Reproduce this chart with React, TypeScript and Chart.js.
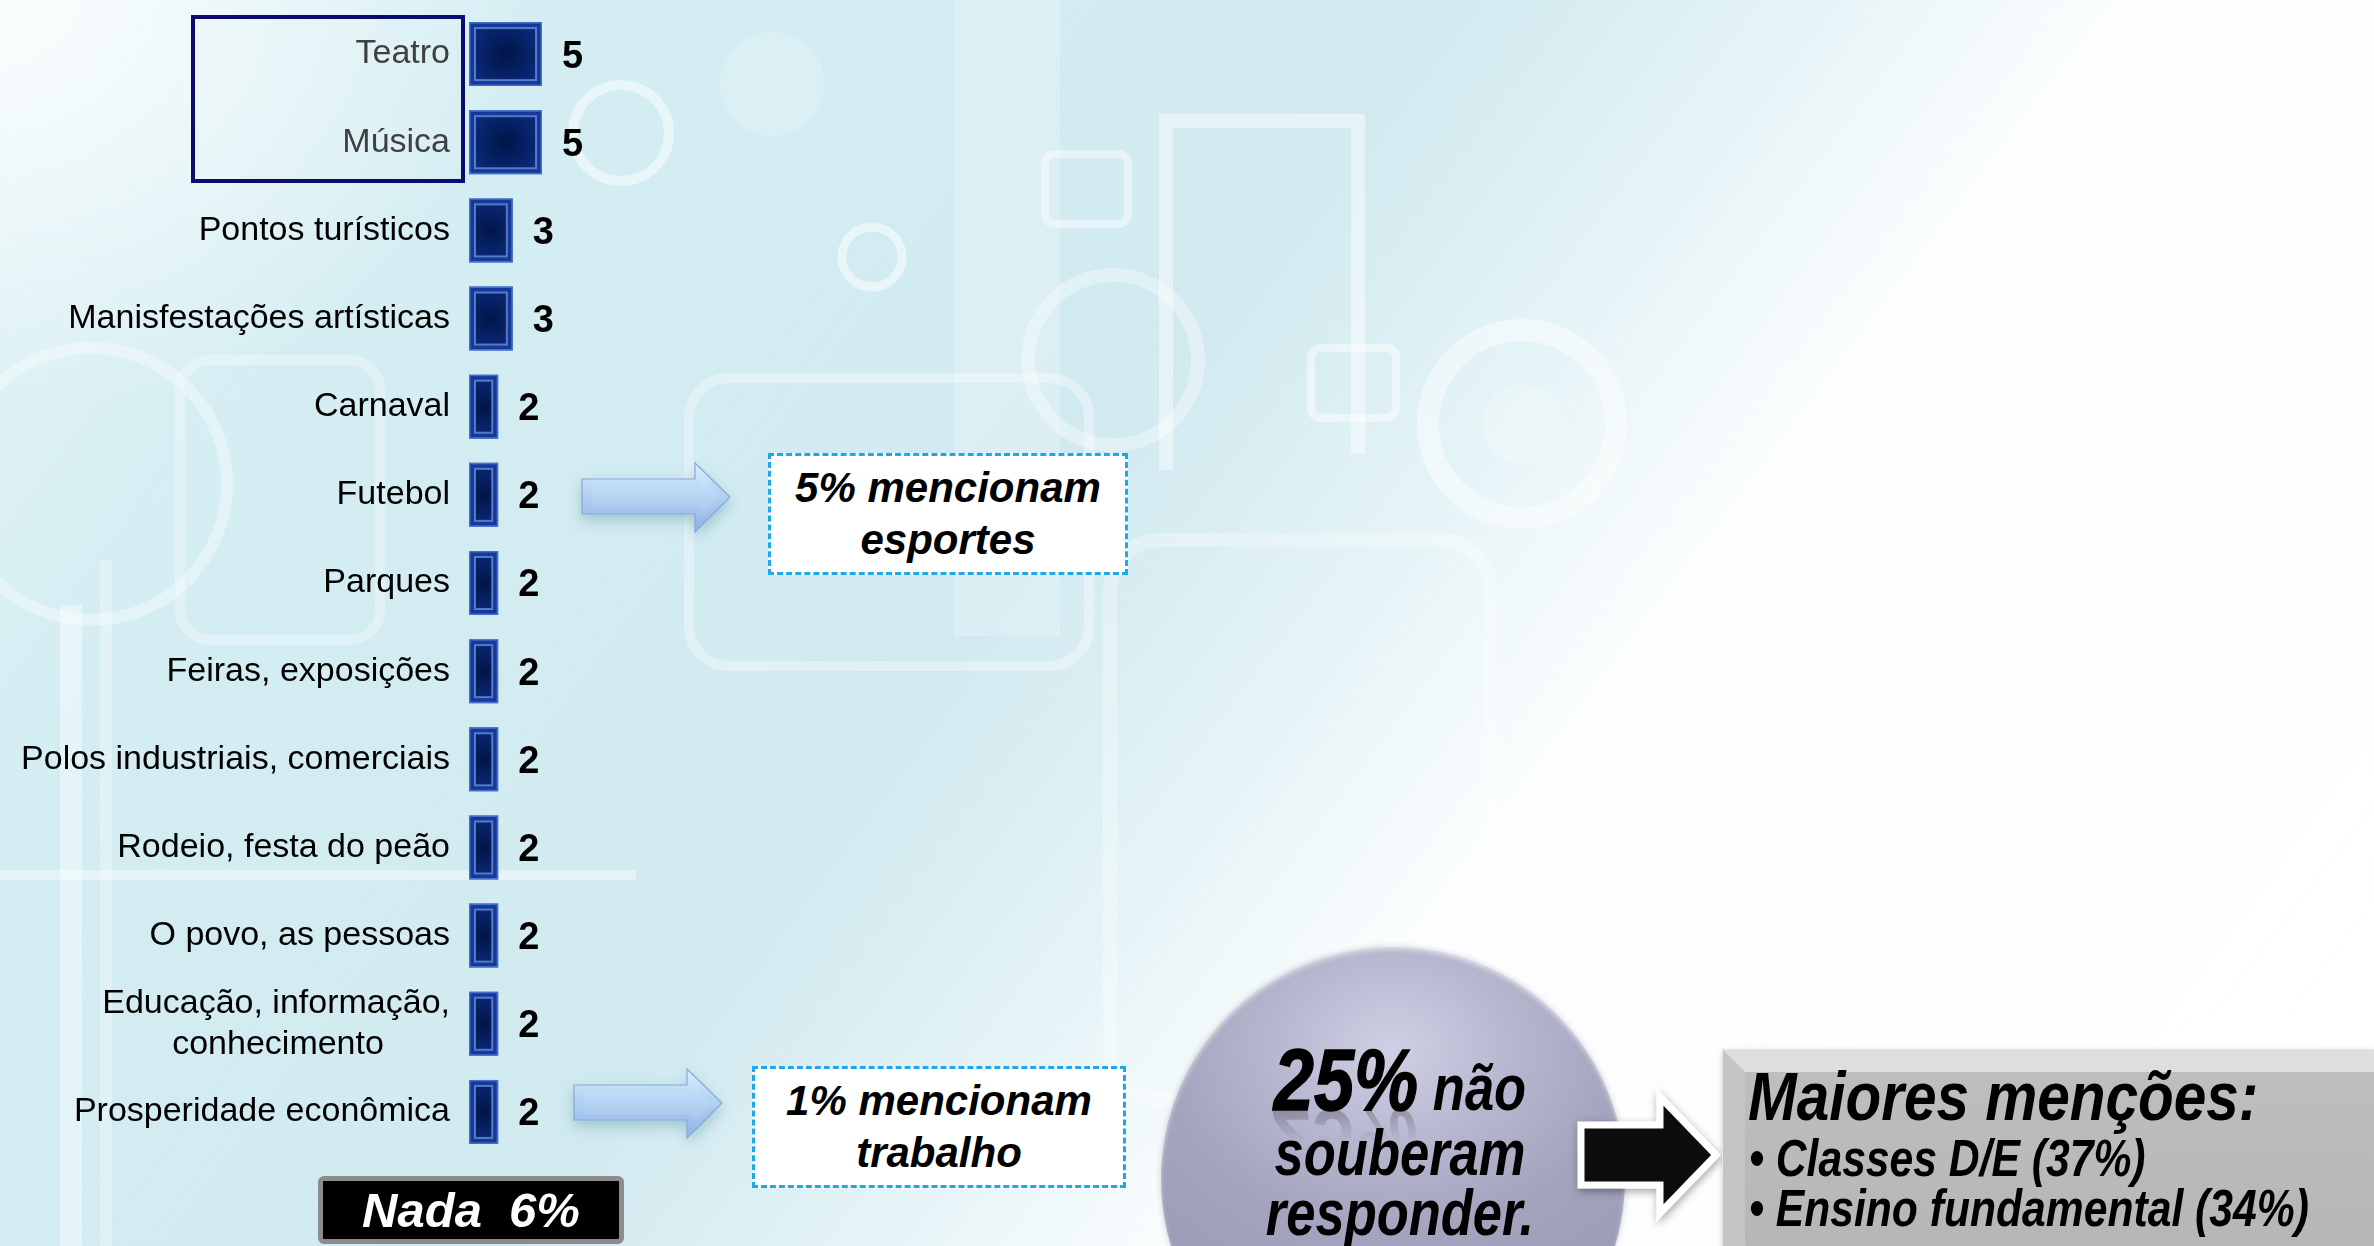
import React, { useEffect, useRef } from "react";
import { Chart, registerables } from "chart.js";

Chart.register(...registerables);

const FONT = "'Liberation Sans', Arial, Helvetica, sans-serif";

// ---- data ----
const categories: (string | string[])[] = [
  "Teatro",
  "Música",
  "Pontos turísticos",
  "Manisfestações artísticas",
  "Carnaval",
  "Futebol",
  "Parques",
  "Feiras, exposições",
  "Polos industriais, comerciais",
  "Rodeio, festa do peão",
  "O povo, as pessoas",
  ["Educação, informação,", "conhecimento       "],
  "Prosperidade econômica",
];
const values: number[] = [5, 5, 3, 3, 2, 2, 2, 2, 2, 2, 2, 2, 2];
const boxedCount = 2; // Teatro, Música are framed
const axisMax = 20;

const noteSports: string[] = ["5% mencionam", "esportes"];
const noteWork: string[] = ["1% mencionam", "trabalho"];
const nothingLabel = "Nada  6%";
const dontKnowPct = "25%";
const dontKnowText: string[] = ["não", "souberam", "responder."];
const topTitle = "Maiores menções:";
const topItems: string[] = ["Classes D/E (37%)", "Ensino fundamental (34%)"];

const barDecor = {
  id: "barDecor",
  afterDatasetsDraw(chart: any) {
    const ctx = chart.ctx as CanvasRenderingContext2D;
    const meta = chart.getDatasetMeta(0);
    const data = chart.data.datasets[0].data as number[];
    ctx.save();
    meta.data.forEach((el: any, i: number) => {
      const p = el.getProps(["x", "y", "base", "height"], true);
      const l = Math.min(p.x, p.base);
      const r = Math.max(p.x, p.base);
      const t = p.y - p.height / 2;
      const b = p.y + p.height / 2;
      ctx.strokeStyle = "rgba(90,130,215,0.75)";
      ctx.lineWidth = 1.5;
      ctx.strokeRect(l + 0.75, t + 0.75, r - l - 1.5, b - t - 1.5);
      const ins = 6;
      const il = l + ins, ir = r - ins, it = t + ins, ib = b - ins;
      const cx = (il + ir) / 2, cy = (it + ib) / 2;
      const g = ctx.createRadialGradient(cx, cy, 0, cx, cy, Math.max(ir - il, ib - it) / 1.3);
      g.addColorStop(0, "#011549");
      g.addColorStop(1, "#0c3088");
      ctx.fillStyle = g;
      ctx.fillRect(il, it, ir - il, ib - it);
      ctx.strokeStyle = "rgba(140,170,232,0.6)";
      ctx.lineWidth = 2;
      ctx.strokeRect(il, it, ir - il, ib - it);
      ctx.fillStyle = "#000";
      ctx.font = `bold 38px ${FONT}`;
      ctx.textAlign = "left";
      ctx.textBaseline = "middle";
      ctx.fillText(String(data[i]), r + 20, p.y + 3);
    });
    ctx.restore();
  },
};

const bi: React.CSSProperties = {
  fontFamily: FONT,
  fontWeight: "bold",
  fontStyle: "italic",
  color: "#000",
  whiteSpace: "pre",
  position: "absolute",
};

export default function App() {
  const ref = useRef<HTMLCanvasElement>(null);

  useEffect(() => {
    document.body.style.margin = "0";
    const chart = new Chart(ref.current as HTMLCanvasElement, {
      type: "bar",
      data: {
        labels: categories as any,
        datasets: [
          {
            data: values,
            backgroundColor: "#113a9c",
            borderWidth: 0,
            barPercentage: 0.726,
            categoryPercentage: 1,
          },
        ],
      },
      options: {
        indexAxis: "y",
        animation: false,
        responsive: true,
        maintainAspectRatio: false,
        layout: { padding: { top: 10, bottom: 90, left: 0, right: 0 } },
        plugins: { legend: { display: false }, tooltip: { enabled: false } },
        scales: {
          x: { display: false, min: 0, max: axisMax },
          y: {
            grid: { display: false },
            border: { display: false },
            ticks: {
              autoSkip: false,
              padding: 11,
              font: { family: FONT, size: 34 },
              color: (c: any) => (c.index < boxedCount ? "#404040" : "#000000"),
            },
            afterFit: (s: any) => {
              s.width = 469;
              s.paddingTop = 0;
              s.paddingBottom = 0;
            },
          },
        },
      } as any,
      plugins: [barDecor],
    });
    return () => chart.destroy();
  }, []);

  const bg =
    "radial-gradient(ellipse 520px 420px at 0 0, rgba(255,255,255,0.85), rgba(255,255,255,0) 100%)," +
    "linear-gradient(127deg, #e2f3f6 0%, #d3edf2 20%, #d1eaf0 44%, #e6f4f7 55%, #fbfdfe 64%, #ffffff 100%)";

  const arrowPath = "M582,479 L695,479 L695,463 L730,497 L695,532 L695,514 L582,514 Z";
  const arrowFace = "M592,486 L701,486 L701,477 L720,497 L701,517 L701,508 L592,508 Z";

  return (
    <div
      style={{
        position: "fixed",
        left: 0,
        top: 0,
        width: 2374,
        height: 1246,
        overflow: "hidden",
        background: bg,
      }}
    >
      {/* decorative background shapes */}
      <svg width={2374} height={1246} style={{ position: "absolute", left: 0, top: 0 }}>
        <g fill="none" stroke="#ffffff">
          <circle cx={1522} cy={424} r={94} strokeWidth={22} opacity={0.45} />
          <circle cx={1113} cy={360} r={85} strokeWidth={14} opacity={0.35} />
          <circle cx={872} cy={257} r={30} strokeWidth={9} opacity={0.5} />
          <circle cx={621} cy={133} r={48} strokeWidth={10} opacity={0.5} />
          <circle cx={91} cy={484} r={136} strokeWidth={12} opacity={0.35} />
          <polyline points="1166,470 1166,121 1358,121 1358,454" strokeWidth={14} opacity={0.45} />
          <rect x={1045} y={154} width={83} height={70} rx={10} strokeWidth={8} opacity={0.45} />
          <rect x={1311} y={348} width={85} height={70} rx={10} strokeWidth={8} opacity={0.45} />
          <rect x={689} y={378} width={400} height={288} rx={40} strokeWidth={10} opacity={0.35} />
          <rect x={180} y={360} width={200} height={280} rx={30} strokeWidth={10} opacity={0.3} />
          <rect x={1110} y={540} width={380} height={560} rx={50} strokeWidth={14} opacity={0.3} />
          <line x1={0} y1={875} x2={636} y2={875} strokeWidth={10} opacity={0.4} />
        </g>
        <g fill="#ffffff">
          <circle cx={1522} cy={424} r={40} opacity={0.2} />
          <rect x={60} y={605} width={22} height={641} opacity={0.4} />
          <rect x={100} y={560} width={12} height={686} opacity={0.3} />
          <rect x={954} y={0} width={106} height={636} opacity={0.22} />
          <circle cx={772} cy={84} r={52} opacity={0.18} />
        </g>
      </svg>

      {/* chart */}
      <div style={{ position: "absolute", left: 0, top: 0, width: 761, height: 1246 }}>
        <canvas ref={ref} />
      </div>

      {/* frame around Teatro / Música */}
      <div
        style={{
          position: "absolute",
          left: 191,
          top: 15,
          width: 274,
          height: 168,
          boxSizing: "border-box",
          border: "4px solid #0c0c70",
        }}
      />

      {/* arrows */}
      <svg width={2374} height={1246} style={{ position: "absolute", left: 0, top: 0 }}>
        <defs>
          <linearGradient id="blueBody" x1="0" y1="0" x2="0" y2="1">
            <stop offset="0" stopColor="#d9effc" />
            <stop offset="0.45" stopColor="#b3d2f2" />
            <stop offset="1" stopColor="#8fb1e3" />
          </linearGradient>
          <linearGradient id="blueFace" x1="0" y1="0" x2="0" y2="1">
            <stop offset="0" stopColor="#c9e6fa" />
            <stop offset="1" stopColor="#a4c4ee" />
          </linearGradient>
          <filter id="glow" x="-30%" y="-60%" width="160%" height="220%">
            <feDropShadow dx="0" dy="6" stdDeviation="7" floodColor="#5f9aa4" floodOpacity="0.45" />
          </filter>
          <filter id="dark" x="-30%" y="-30%" width="160%" height="160%">
            <feDropShadow dx="1" dy="3" stdDeviation="4" floodColor="#000" floodOpacity="0.35" />
          </filter>
        </defs>
        {[0, 1].map((k) => (
          <g key={k} transform={k === 0 ? "" : "translate(-8,606)"} filter="url(#glow)">
            <path d={arrowPath} fill="url(#blueBody)" stroke="#86a9dc" strokeWidth={1.2} />
            <path d={arrowFace} fill="url(#blueFace)" opacity={0.8} />
          </g>
        ))}
      </svg>

      {/* dashed notes */}
      {[
        { left: 768, top: 453, width: 360, lines: noteSports },
        { left: 752, top: 1066, width: 374, lines: noteWork },
      ].map((b, k) => (
        <div
          key={k}
          style={{
            position: "absolute",
            left: b.left,
            top: b.top,
            width: b.width,
            height: 122,
            boxSizing: "border-box",
            border: "3px dashed #1ea8ec",
            background: "#ffffff",
            display: "flex",
            flexDirection: "column",
            alignItems: "center",
            justifyContent: "center",
          }}
        >
          {b.lines.map((ln, i) => (
            <div key={i} style={{ ...bi, position: "static", fontSize: 42, lineHeight: "52px" }}>
              {ln}
            </div>
          ))}
        </div>
      ))}

      {/* Nada box */}
      <div
        style={{
          position: "absolute",
          left: 318,
          top: 1176,
          width: 306,
          height: 68,
          boxSizing: "border-box",
          border: "5px solid #8c8c8c",
          borderRadius: 6,
          background: "#000",
          display: "flex",
          alignItems: "center",
          justifyContent: "center",
        }}
      >
        <span style={{ ...bi, position: "static", color: "#fff", fontSize: 49, lineHeight: "49px" }}>
          {nothingLabel}
        </span>
      </div>

      {/* circle */}
      <div
        style={{
          position: "absolute",
          left: 1161,
          top: 947,
          width: 464,
          height: 464,
          borderRadius: "50%",
          background:
            "radial-gradient(ellipse 75% 60% at 50% 22%, #cfcfe5 0%, #b6b6cf 35%, #a4a4be 65%, #9c9cb7 100%)",
          boxShadow: "0 0 6px rgba(0,0,0,0.18), inset 0 3px 4px rgba(255,255,255,0.5)",
        }}
      />
      {/* reflection of 25% */}
      <div
        style={{
          ...bi,
          left: 1150,
          top: 1037,
          width: 500,
          textAlign: "center",
          fontSize: 88,
          lineHeight: "86px",
          color: "rgba(0,0,0,0.9)",
          transform: "scaleX(0.82) scaleY(-1)",
          transformOrigin: "50% 73px",
          WebkitMaskImage: "linear-gradient(to top, rgba(0,0,0,0.35) 10%, rgba(0,0,0,0) 55%)",
          maskImage: "linear-gradient(to top, rgba(0,0,0,0.35) 10%, rgba(0,0,0,0) 55%)",
        }}
      >
        <span>{dontKnowPct}</span>
        <span style={{ fontSize: 64, visibility: "hidden" }}>{" " + dontKnowText[0]}</span>
      </div>
      <div
        style={{
          ...bi,
          left: 1150,
          top: 1037,
          width: 500,
          textAlign: "center",
          fontSize: 88,
          lineHeight: "86px",
          transform: "scaleX(0.82)",
          transformOrigin: "50% 0",
        }}
      >
        <span style={{ WebkitTextStroke: "1.5px #000" }}>{dontKnowPct}</span>
        <span style={{ fontSize: 64 }}>{" " + dontKnowText[0]}</span>
      </div>
      {dontKnowText.slice(1).map((ln, i) => (
        <div
          key={i}
          style={{
            ...bi,
            left: 1150,
            top: 1121 + i * 60,
            width: 500,
            textAlign: "center",
            fontSize: 64,
            lineHeight: "64px",
            transform: "scaleX(0.82)",
            transformOrigin: "50% 0",
          }}
        >
          {ln}
        </div>
      ))}

      {/* black arrow */}
      <svg width={2374} height={1246} style={{ position: "absolute", left: 0, top: 0 }}>
        <path
          d="M1581,1125 L1660,1125 L1660,1097 L1716,1155 L1660,1213 L1660,1185 L1581,1185 Z"
          fill="#070707"
          stroke="#ffffff"
          strokeWidth={7}
          strokeLinejoin="miter"
          filter="url(#dark)"
        />
      </svg>

      {/* grey box */}
      <div
        style={{
          position: "absolute",
          left: 1723,
          top: 1050,
          width: 700,
          height: 260,
          boxSizing: "border-box",
          borderStyle: "solid",
          borderWidth: 22,
          borderColor: "#dedede #a8a8a8 #9a9a9a #c4c4c4",
          background: "linear-gradient(180deg, #bebebe, #b4b4b4)",
          boxShadow: "0 0 0 1px #e8e8e8, 0 2px 6px rgba(0,0,0,0.25)",
        }}
      />
      <div
        style={{
          ...bi,
          left: 1748,
          top: 1062,
          fontSize: 68,
          lineHeight: "68px",
          transform: "scaleX(0.86)",
          transformOrigin: "0 0",
        }}
      >
        {topTitle}
      </div>
      {topItems.map((t, i) => (
        <div
          key={i}
          style={{
            ...bi,
            left: 1749,
            top: 1132 + i * 50,
            fontSize: 52,
            lineHeight: "52px",
            transform: "scaleX(0.82)",
            transformOrigin: "0 0",
          }}
        >
          {"• " + t}
        </div>
      ))}
    </div>
  );
}
